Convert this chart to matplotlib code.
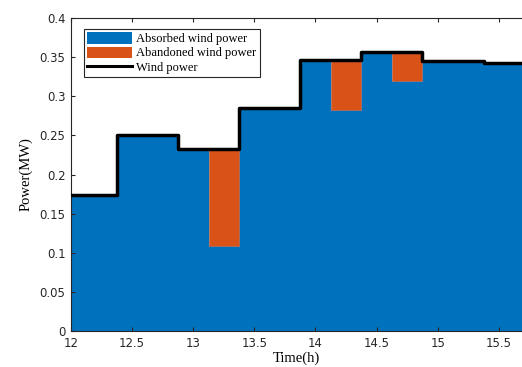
import numpy as np
import matplotlib
matplotlib.use("Agg")
import matplotlib.pyplot as plt
from matplotlib.patches import Patch
from matplotlib.lines import Line2D

# quarter-hour slots (h)
time_h = [12.0, 12.25, 12.5, 12.75, 13.0, 13.25, 13.5, 13.75,
          14.0, 14.25, 14.5, 14.75, 15.0, 15.25, 15.5, 15.75]
# available wind power (MW)
wind_mw = [0.174, 0.174, 0.251, 0.251, 0.233, 0.233, 0.285, 0.285,
           0.346, 0.346, 0.357, 0.357, 0.345, 0.345, 0.342, 0.342]
# absorbed part (MW)
absorbed_mw = [0.174, 0.174, 0.251, 0.251, 0.233, 0.109, 0.285, 0.285,
               0.346, 0.282, 0.357, 0.319, 0.345, 0.345, 0.342, 0.342]

BLUE = "#0072BD"
ORANGE = "#D95319"
SERIF = "Liberation Serif"

t = np.array(time_h)
wind = np.array(wind_mw)
absorbed = np.array(absorbed_mw)
abandoned = wind - absorbed

fig = plt.figure(figsize=(5.22, 3.67), dpi=100)
ax = fig.add_axes([71 / 522, 36 / 367, 451 / 522, 313 / 367])

ax.bar(t, absorbed, width=0.25, color=BLUE, linewidth=0, zorder=1)
ax.bar(t, abandoned, width=0.25, bottom=absorbed, color=ORANGE,
       edgecolor="#b07060", linewidth=0.6, zorder=2)
ax.step(t, wind, where="mid", color="black", linewidth=2.5, zorder=3)

ax.set_xlim(12, 15.69)
ax.set_ylim(0, 0.4)
ax.set_xticks(np.arange(12, 15.6, 0.5))
ax.set_yticks(np.arange(0, 0.401, 0.05))
ax.xaxis.set_major_formatter(matplotlib.ticker.FuncFormatter(lambda v, p: f"{v:g}"))
ax.yaxis.set_major_formatter(matplotlib.ticker.FuncFormatter(lambda v, p: f"{round(v, 2):g}"))
ax.tick_params(direction="in", length=3, width=0.8, labelsize=8.4,
               top=True, right=False, colors="#262626", pad=4)
for s in ax.spines.values():
    s.set_color("#262626")
    s.set_linewidth(0.8)
ax.spines["right"].set_visible(False)

ax.set_xlabel("Time(h)", family=SERIF, fontsize=10.5, labelpad=1.5)
ax.set_ylabel("Power(MW)", family=SERIF, fontsize=10.5, labelpad=5)

handles = [Patch(facecolor=BLUE, edgecolor="none"),
           Patch(facecolor=ORANGE, edgecolor="none"),
           Line2D([0], [0], color="black", linewidth=2.2)]
labels = ["Absorbed wind power", "Abandoned wind power", "Wind power"]
leg = ax.legend(handles, labels, loc="upper left", bbox_to_anchor=(0.028, 0.966),
                prop={"family": SERIF, "size": 9.0}, frameon=True, fancybox=False,
                edgecolor="#262626", framealpha=1, handlelength=3.6,
                handleheight=1.0, labelspacing=0.1, borderpad=0.3,
                handletextpad=0.3, borderaxespad=0)
leg.get_frame().set_linewidth(0.8)

fig.savefig("out.png", dpi=100)
